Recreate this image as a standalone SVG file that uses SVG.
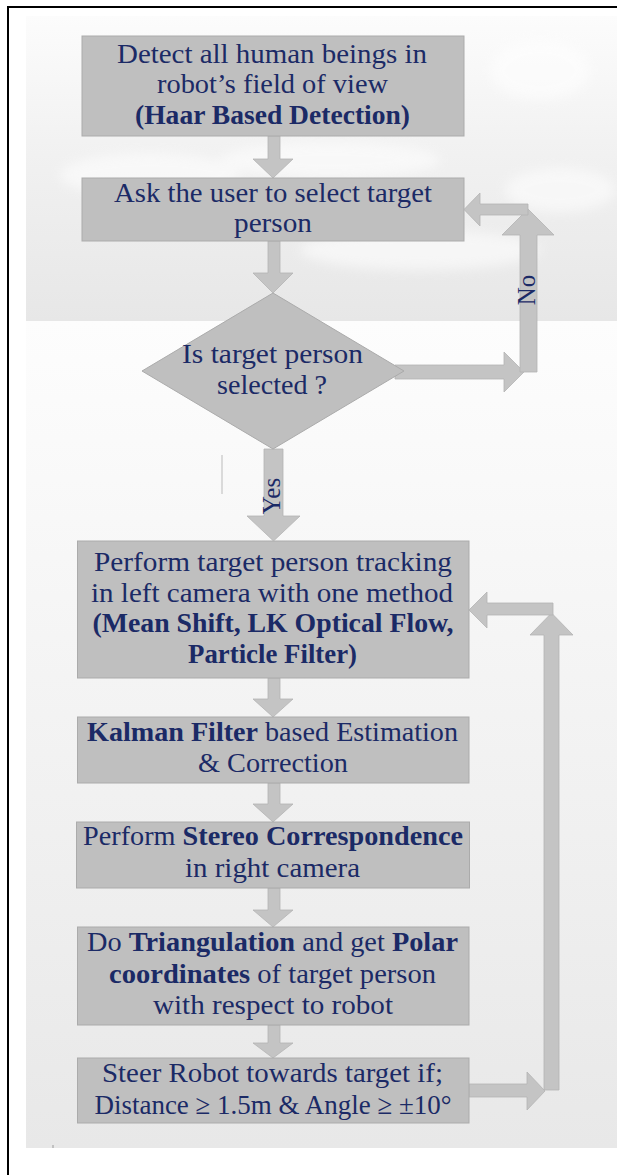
<svg xmlns="http://www.w3.org/2000/svg" width="617" height="1175" viewBox="0 0 617 1175">
<defs>
<linearGradient id="gTop" x1="0" y1="0" x2="0" y2="1">
<stop offset="0" stop-color="#fcfcfc"/>
<stop offset="0.45" stop-color="#f1f1f1"/>
<stop offset="1" stop-color="#e7e7e7"/>
</linearGradient>
<linearGradient id="gBot" x1="0" y1="0" x2="0" y2="1">
<stop offset="0" stop-color="#fdfdfd"/>
<stop offset="1" stop-color="#e8e8e8"/>
</linearGradient>
<filter id="blur" x="-20%" y="-50%" width="140%" height="200%"><feGaussianBlur stdDeviation="6"/></filter>
<style>
.box{fill:#bfbfbf;stroke:#ababab;stroke-width:1}
.arr{fill:#c4c4c4;stroke:#b4b4b4;stroke-width:0.8}
.t{font-family:"Liberation Serif","Times New Roman",serif;font-size:28px;fill:#1b2a66}
.b{font-weight:bold}
.lbl{font-family:"Liberation Serif","Times New Roman",serif;font-size:25px;fill:#1b2a66}
</style>
</defs>
<g id="background">
<rect x="0" y="0" width="617" height="1175" fill="#ffffff"/>
<rect x="26" y="16" width="591" height="305" fill="url(#gTop)"/>
<g fill="#ffffff" opacity="0.55" filter="url(#blur)">
<ellipse cx="150" cy="175" rx="90" ry="22"/>
<ellipse cx="330" cy="160" rx="110" ry="18"/>
<ellipse cx="540" cy="70" rx="50" ry="30"/>
<ellipse cx="560" cy="190" rx="55" ry="22"/>
<ellipse cx="420" cy="250" rx="120" ry="20"/>
</g>
<rect x="26" y="321" width="591" height="827" fill="url(#gBot)"/>
<rect x="52.5" y="1145" width="1" height="3" fill="#999999"/>
<line x1="222" y1="455" x2="222" y2="494" stroke="#cfcfcf" stroke-width="1.5"/>
<path d="M8,1175 V7 H617" fill="none" stroke="#000000" stroke-width="2"/>
</g>
<g id="connectors">
<path class="arr" d="M268,136 H280 V159 H293 L273,178 L253,159 H268 Z"/>
<path class="arr" d="M268,241 H280 V273 H293 L273,293 L253,273 H268 Z"/>
<path class="arr" d="M264,449 H283 V516 H300 L273.5,541 L247,516 H264 Z"/>
<path class="arr" d="M395,365 H504 V352 L524,372 L504,392 V379 H395 Z"/>
<path class="arr" d="M520,372 H537 V235 H554 L528,209 L502,235 H520 Z"/>
<path class="arr" d="M528,204 V215 H480 V226 L464,209.5 L480,193 V204 Z"/>
<path class="arr" d="M268,678 H280 V699 H293 L273,717 L253,699 H268 Z"/>
<path class="arr" d="M268,783 H280 V804 H293 L273,822 L253,804 H268 Z"/>
<path class="arr" d="M268,888 H280 V910 H293 L273,927 L253,910 H268 Z"/>
<path class="arr" d="M268,1025 H280 V1043 H293 L273,1058 L253,1043 H268 Z"/>
<path class="arr" d="M469,1084 H527 V1072 L545,1091 L527,1110 V1097 H469 Z"/>
<path class="arr" d="M544,1090 H559 V635 H573 L551.5,613 L530,635 H544 Z"/>
<path class="arr" d="M553,603 V615 H487 V628 L469,610 L487,592 V603 Z"/>
<text class="lbl" transform="translate(535,290) rotate(-90)" text-anchor="middle">No</text>
<text class="lbl" transform="translate(280,496) rotate(-90)" text-anchor="middle">Yes</text>
</g>
<g id="n1">
<rect class="box" x="82" y="36" width="382" height="100"/>
<text class="t" x="117" y="63" textLength="310" lengthAdjust="spacingAndGlyphs">Detect all human beings in</text>
<text class="t" x="157" y="93" textLength="231" lengthAdjust="spacingAndGlyphs">robot’s field of view</text>
<text class="t b" x="135" y="124" textLength="275" lengthAdjust="spacingAndGlyphs">(Haar Based Detection)</text>
</g>
<g id="n2">
<rect class="box" x="82" y="178" width="382" height="63"/>
<text class="t" x="114" y="202" textLength="318" lengthAdjust="spacingAndGlyphs">Ask the user to select target</text>
<text class="t" x="234" y="232" textLength="78" lengthAdjust="spacingAndGlyphs">person</text>
</g>
<g id="n3">
<path class="box" d="M273,293 L404,371 L273,449 L142,371 Z"/>
<text class="t" x="182" y="363" textLength="181" lengthAdjust="spacingAndGlyphs">Is target person</text>
<text class="t" x="217" y="394" textLength="110" lengthAdjust="spacingAndGlyphs">selected ?</text>
</g>
<g id="n4">
<rect class="box" x="77.5" y="541" width="391.5" height="137"/>
<text class="t" x="94" y="571" textLength="358" lengthAdjust="spacingAndGlyphs">Perform target person tracking</text>
<text class="t" x="91" y="602" textLength="362" lengthAdjust="spacingAndGlyphs">in left camera with one method</text>
<text class="t b" x="92.5" y="632" textLength="361" lengthAdjust="spacingAndGlyphs">(Mean Shift, LK Optical Flow,</text>
<text class="t b" x="188" y="663" textLength="169" lengthAdjust="spacingAndGlyphs">Particle Filter)</text>
</g>
<g id="n5">
<rect class="box" x="77.5" y="717" width="391.5" height="66"/>
<text class="t" x="87" y="741" textLength="371" lengthAdjust="spacingAndGlyphs"><tspan class="b">Kalman Filter</tspan> based Estimation</text>
<text class="t" x="198" y="772" textLength="150" lengthAdjust="spacingAndGlyphs">&amp; Correction</text>
</g>
<g id="n6">
<rect class="box" x="76.5" y="822" width="393" height="66"/>
<text class="t" x="83" y="845" textLength="380" lengthAdjust="spacingAndGlyphs">Perform <tspan class="b">Stereo Correspondence</tspan></text>
<text class="t" x="185" y="877" textLength="175" lengthAdjust="spacingAndGlyphs">in right camera</text>
</g>
<g id="n7">
<rect class="box" x="77.5" y="927" width="391.5" height="98"/>
<text class="t" x="87" y="951" textLength="371" lengthAdjust="spacingAndGlyphs">Do <tspan class="b">Triangulation</tspan> and get <tspan class="b">Polar</tspan></text>
<text class="t" x="109" y="983" textLength="327" lengthAdjust="spacingAndGlyphs"><tspan class="b">coordinates</tspan> of target person</text>
<text class="t" x="153" y="1014" textLength="240" lengthAdjust="spacingAndGlyphs">with respect to robot</text>
</g>
<g id="n8">
<rect class="box" x="77.5" y="1058" width="391.5" height="65"/>
<text class="t" x="102" y="1082" textLength="341" lengthAdjust="spacingAndGlyphs">Steer Robot towards target if;</text>
<text class="t" x="94.5" y="1114" textLength="357" lengthAdjust="spacingAndGlyphs">Distance ≥ 1.5m &amp; Angle ≥ ±10°</text>
</g>
</svg>
